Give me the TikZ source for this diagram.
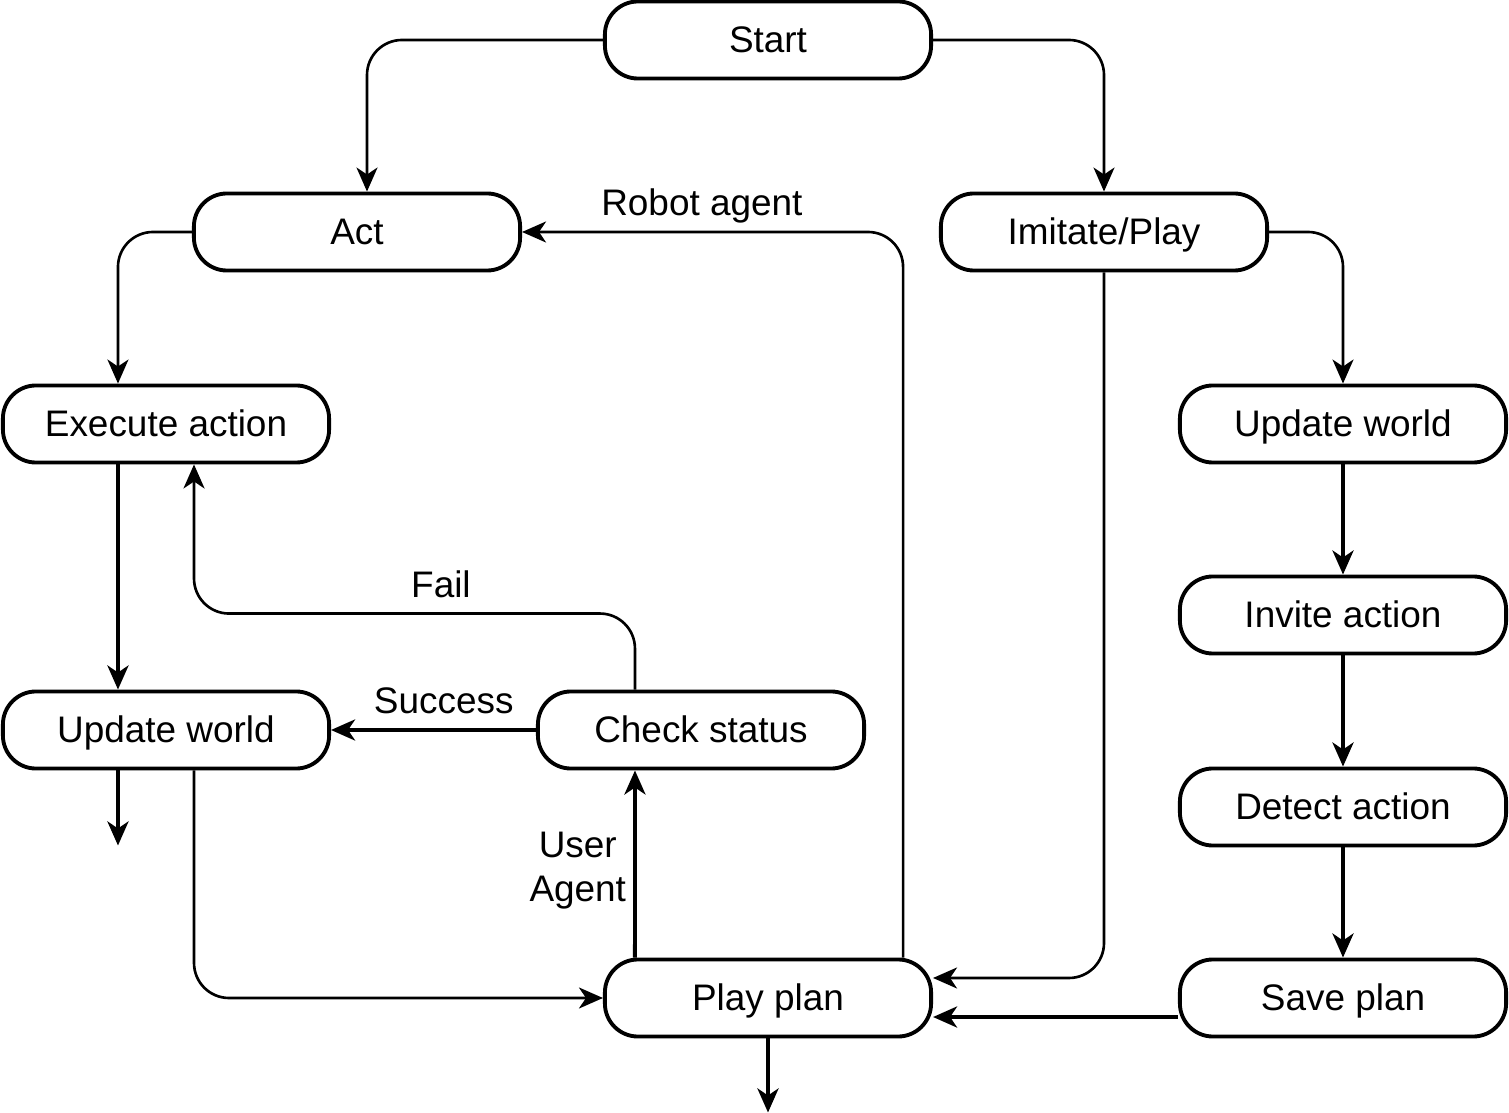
\documentclass[tikz,border=0pt]{standalone}
\usepackage{fontspec}
\setmainfont{Liberation Sans}
\usetikzlibrary{arrows.meta}

\tikzset{
  box/.style={draw, line width=1.1pt, rounded corners=0.33cm, minimum width=3.26cm, minimum height=0.77cm, text height=0.72em, text depth=0pt, font=\fontsize{10.5}{12.6}\selectfont},
  thinline/.style={line width=0.75pt, rounded corners=0.35cm},
  thickline/.style={line width=1.1pt, rounded corners=0.35cm},
  lbl/.style={font=\fontsize{10.5}{12.6}\selectfont, text height=0.72em, text depth=0pt, inner xsep=0.07cm, inner ysep=0.15cm},
  >={Stealth[length=0.24cm, width=0.21cm, inset=0.07cm]}
}

\begin{document}
\begin{tikzpicture}[x=0.01cm, y=-0.01cm]
\useasboundingbox (0,0) rectangle (1509,1113);
\node[box] (start) at (768,40) {Start};
\node[box] (act) at (357,232) {Act};
\node[box] (imitate) at (1104,232) {Imitate/Play};
\node[box] (exec) at (166,424) {Execute action};
\node[box] (uwl) at (166,730) {Update world};
\node[box] (check) at (701,730) {Check status};
\node[box] (play) at (768,998) {Play plan};
\node[box] (uwr) at (1343,424) {Update world};
\node[box] (invite) at (1343,615) {Invite action};
\node[box] (detect) at (1343,807) {Detect action};
\node[box] (save) at (1343,998) {Save plan};
\coordinate (uwlout) at ([xshift=-0.48cm, yshift=-0.75cm]uwl.south);
\coordinate (playout) at ([yshift=-0.74cm]play.south);

\draw[thinline,->] (start.west) -| ([xshift=0.1cm]act.north);
\draw[thinline,->] (start.east) -| (imitate.north);
\draw[thinline,->] (act.west) -| ([xshift=-0.48cm]exec.north);
\draw[thinline,->] (imitate.east) -| (uwr.north);
\draw[thickline,->] (uwr.south) -- (invite.north);
\draw[thickline,->] (invite.south) -- (detect.north);
\draw[thickline,->] (detect.south) -- (save.north);
\draw[thickline,->] ([xshift=-0.48cm]exec.south) -- ([xshift=-0.48cm]uwl.north);
\draw[thickline,->] ([xshift=-0.48cm]uwl.south) -- (uwlout);
\draw[thinline,->] ([xshift=0.28cm]uwl.south) |- (play.west);
\draw[thickline,->] (check.west) -- node[lbl, above, pos=0.45] (success) {Success} (uwl.east);
\draw[thinline,->] ([xshift=-0.66cm]check.north) -- ++(0,-76) -| node[lbl, above, pos=0.22] (fail) {Fail} ([xshift=0.28cm]exec.south);
\draw[thickline,->] ([xshift=-1.33cm]play.north) -- node[lbl, left, align=center, inner ysep=2pt, yshift=-0.25cm] (useragent) {User\\Agent} ([xshift=-0.66cm]check.south);
\draw[thinline,->] ([xshift=1.35cm]play.north) |- node[lbl, above, pos=0.764] (robot) {Robot agent} (act.east);
\draw[thinline,->] (imitate.south) |- ([yshift=0.2cm]play.east);
\draw[thickline,->] ([yshift=-0.19cm]save.west) -- ([yshift=-0.19cm]play.east);
\draw[thickline,->] (play.south) -- (playout);
\end{tikzpicture}
\end{document}
